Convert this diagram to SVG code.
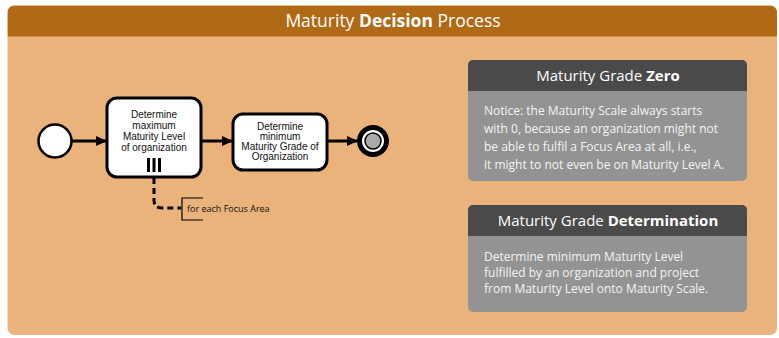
<svg xmlns="http://www.w3.org/2000/svg" width="779" height="338" viewBox="0 0 779 338">
<defs>
<style>
.lbl{font-family:"Liberation Sans",Arial,sans-serif;fill:#111;font-size:10px;text-anchor:middle}
.ttl{font-family:"Open Sans","Liberation Sans",sans-serif;fill:#fff;text-anchor:middle}
.body{font-family:"Open Sans","Liberation Sans",sans-serif;fill:#f4f4f4;font-size:12px}
.task{fill:#fff;stroke:#000;stroke-width:3}
.flow{stroke:#000;stroke-width:3;fill:none;marker-end:url(#arr)}
</style>
<marker id="arr" markerWidth="11" markerHeight="10" refX="10" refY="5" orient="auto" markerUnits="userSpaceOnUse">
<path d="M0,0 L11,5 L0,10 Z" fill="#000"/>
</marker>
<clipPath id="hdrclip"><rect x="7.5" y="5.5" width="769.5" height="31"/></clipPath>
</defs>
<rect width="779" height="338" fill="#fff"/>
<g id="panel">
<rect x="7.5" y="5.5" width="769.5" height="329.5" rx="7" fill="#EBB37C"/>
<rect x="7.5" y="5.5" width="769.5" height="40" rx="7" fill="#B06915" clip-path="url(#hdrclip)"/>
<text class="ttl" x="393" y="27" font-size="17.5">Maturity <tspan font-weight="bold">Decision</tspan> Process</text>
</g>
<g id="connectors">
<line class="flow" x1="72" y1="141" x2="106" y2="141"/>
<line class="flow" x1="201" y1="141" x2="232" y2="141"/>
<line class="flow" x1="327" y1="141" x2="357" y2="141"/>
<path d="M154,178 V200 Q154,208 162,208 H181" fill="none" stroke="#000" stroke-width="3" stroke-dasharray="6,4"/>
</g>
<g id="start">
<circle cx="55" cy="141" r="16.5" fill="#fff" stroke="#000" stroke-width="2.5"/>
</g>
<g id="task1">
<rect class="task" x="107" y="98" width="94" height="79" rx="10"/>
<text class="lbl"><tspan x="154" y="118">Determine</tspan><tspan x="154" y="129">maximum</tspan><tspan x="154" y="140">Maturity Level</tspan><tspan x="154" y="151">of organization</tspan></text>
<rect x="147" y="158" width="3" height="14" fill="#000"/>
<rect x="152.5" y="158" width="3" height="14" fill="#000"/>
<rect x="158" y="158" width="3" height="14" fill="#000"/>
</g>
<g id="task2">
<rect class="task" x="233" y="114" width="94" height="56" rx="10"/>
<text class="lbl" font-size="8.6"><tspan x="280" y="130">Determine</tspan><tspan x="280" y="140">minimum</tspan><tspan x="280" y="150">Maturity Grade of</tspan><tspan x="280" y="160">Organization</tspan></text>
</g>
<g id="end">
<circle cx="373" cy="141" r="13.5" fill="#fff" stroke="#000" stroke-width="5"/>
<circle cx="373" cy="141" r="8" fill="#aaa" stroke="#000" stroke-width="1.5"/>
</g>
<g id="annotation">
<path d="M203,198 H182 V220 H203" fill="none" stroke="#000" stroke-width="1.2"/>
<text x="187" y="212" font-family="'Open Sans','Liberation Sans',sans-serif" font-size="9" fill="#111">for each Focus Area</text>
</g>
<g id="zero">
<rect x="468" y="60" width="279" height="121" rx="5" fill="#939393"/>
<path d="M468,91 V65 a5,5 0 0 1 5,-5 H742 a5,5 0 0 1 5,5 V91 Z" fill="#4A4A4A"/>
<text class="ttl" x="608" y="81" font-size="15">Maturity Grade <tspan font-weight="bold">Zero</tspan></text>
<text class="body"><tspan x="484" y="115">Notice: the Maturity Scale always starts</tspan><tspan x="484" y="133">with 0, because an organization might not</tspan><tspan x="484" y="151">be able to fulfil a Focus Area at all, i.e.,</tspan><tspan x="484" y="169">it might to not even be on Maturity Level A.</tspan></text>
</g>
<g id="determination">
<rect x="468" y="205" width="279" height="107" rx="5" fill="#939393"/>
<path d="M468,236 V210 a5,5 0 0 1 5,-5 H742 a5,5 0 0 1 5,5 V236 Z" fill="#4A4A4A"/>
<text class="ttl" x="608" y="226" font-size="15">Maturity Grade <tspan font-weight="bold">Determination</tspan></text>
<text class="body"><tspan x="484" y="261">Determine minimum Maturity Level</tspan><tspan x="484" y="277">fulfilled by an organization and project</tspan><tspan x="484" y="293">from Maturity Level onto Maturity Scale.</tspan></text>
</g>
</svg>
